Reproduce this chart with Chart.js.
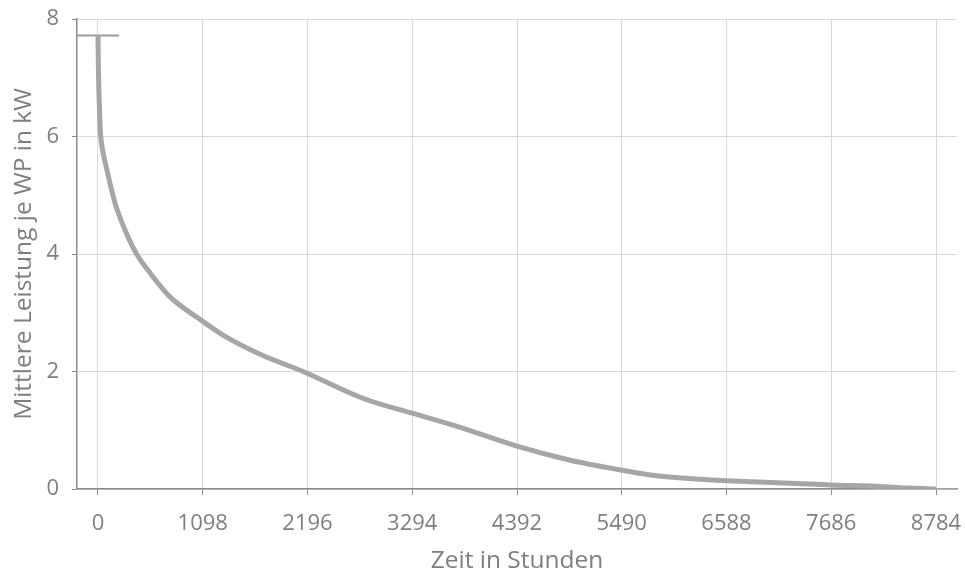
<!DOCTYPE html>
<html>
<head>
<meta charset="utf-8">
<script src="https://cdn.jsdelivr.net/npm/chart.js@4/dist/chart.umd.min.js"></script>
<style>
  html, body { margin: 0; padding: 0; background: #ffffff; }
  #wrap { width: 965px; height: 579px; }
</style>
</head>
<body>
<div id="wrap"><canvas id="c" width="965" height="579"></canvas></div>
<script>
// Sorted hourly load (duration curve): hours vs. mean power per heat pump
const hours = [0, 4, 9, 15, 24, 40, 91, 178, 283, 405, 545, 755, 1049, 1311, 1717, 2150, 2782, 3293, 3796, 4391, 4950, 5492, 5789, 6313, 6593, 7677, 8232, 8515, 8784];
const powerKW = [7.72, 7.2, 6.8, 6.5, 6.1, 5.85, 5.45, 4.87, 4.41, 4.0, 3.68, 3.27, 2.91, 2.62, 2.28, 2.0, 1.54, 1.29, 1.05, 0.73, 0.49, 0.32, 0.24, 0.165, 0.14, 0.07, 0.04, 0.015, 0];

// Short horizontal markers at the peak and at the end of the curve
const capSpan = 220;

// Axis tick values
const xTicks = [0, 1098, 2196, 3294, 4392, 5490, 6588, 7686, 8784];
const yTicks = [0, 2, 4, 6, 8];

const xTitle = 'Zeit in Stunden';
const yTitle = 'Mittlere Leistung je WP in kW';

const curve = hours.map((h, i) => ({ x: h, y: powerKW[i] }));
const first = curve[0];
const last = curve[curve.length - 1];
const topCap = [{ x: first.x - capSpan, y: first.y }, { x: first.x + capSpan, y: first.y }];
const endCap = [{ x: last.x - capSpan, y: last.y }, { x: last.x + capSpan, y: last.y }];

const FONT = "'Open Sans', 'Noto Sans', sans-serif";
const TEXT = '#7f7f7f';
const GRID = '#d9d9d9';
const AXIS = '#8c8c8c';

new Chart(document.getElementById('c'), {
  type: 'line',
  data: {
    datasets: [
      {
        data: curve,
        borderColor: '#a6a6a6',
        borderWidth: 5,
        pointRadius: 0,
        cubicInterpolationMode: 'monotone',
        fill: false
      },
      {
        data: topCap,
        borderColor: '#9c9c9c',
        borderWidth: 2,
        pointRadius: 0,
        fill: false
      },
      {
        data: endCap,
        borderColor: '#a6a6a6',
        borderWidth: 2,
        pointRadius: 0,
        fill: false
      }
    ]
  },
  options: {
    responsive: false,
    animation: false,
    layout: { padding: { left: 0, right: 8, top: 19, bottom: 0 } },
    plugins: { legend: { display: false }, tooltip: { enabled: false } },
    scales: {
      x: {
        type: 'linear',
        min: xTicks[0] - capSpan,
        max: xTicks[xTicks.length - 1] + capSpan,
        afterBuildTicks: (s) => { s.ticks = xTicks.map(v => ({ value: v })); },
        afterFit: (s) => { s.height = 90; },
        grid: { color: GRID, lineWidth: 1, tickLength: 6, tickColor: AXIS, drawTicks: true },
        border: { display: true, color: AXIS, width: 1.5 },
        ticks: {
          color: TEXT,
          font: { family: FONT, size: 22, lineHeight: 2.45 },
          padding: 2,
          maxRotation: 0,
          autoSkip: false,
          callback: (v) => String(v)
        },
        title: {
          display: true,
          text: xTitle,
          color: TEXT,
          font: { family: FONT, size: 24.5 },
          padding: { top: 0, bottom: 3 }
        }
      },
      y: {
        min: 0,
        max: 8,
        afterBuildTicks: (s) => { s.ticks = yTicks.map(v => ({ value: v })); },
        afterFit: (s) => { s.width = 77; },
        grid: { color: GRID, lineWidth: 1, tickLength: 5, tickColor: AXIS, drawTicks: true },
        border: { display: true, color: AXIS, width: 1.5 },
        ticks: {
          color: TEXT,
          font: { family: FONT, size: 22, lineHeight: 0.5 },
          padding: 13,
          callback: (v) => String(v)
        },
        title: {
          display: true,
          text: yTitle,
          color: TEXT,
          font: { family: FONT, size: 24.5 },
          padding: { top: 9, bottom: 0 }
        }
      }
    }
  }
});
</script>
</body>
</html>
